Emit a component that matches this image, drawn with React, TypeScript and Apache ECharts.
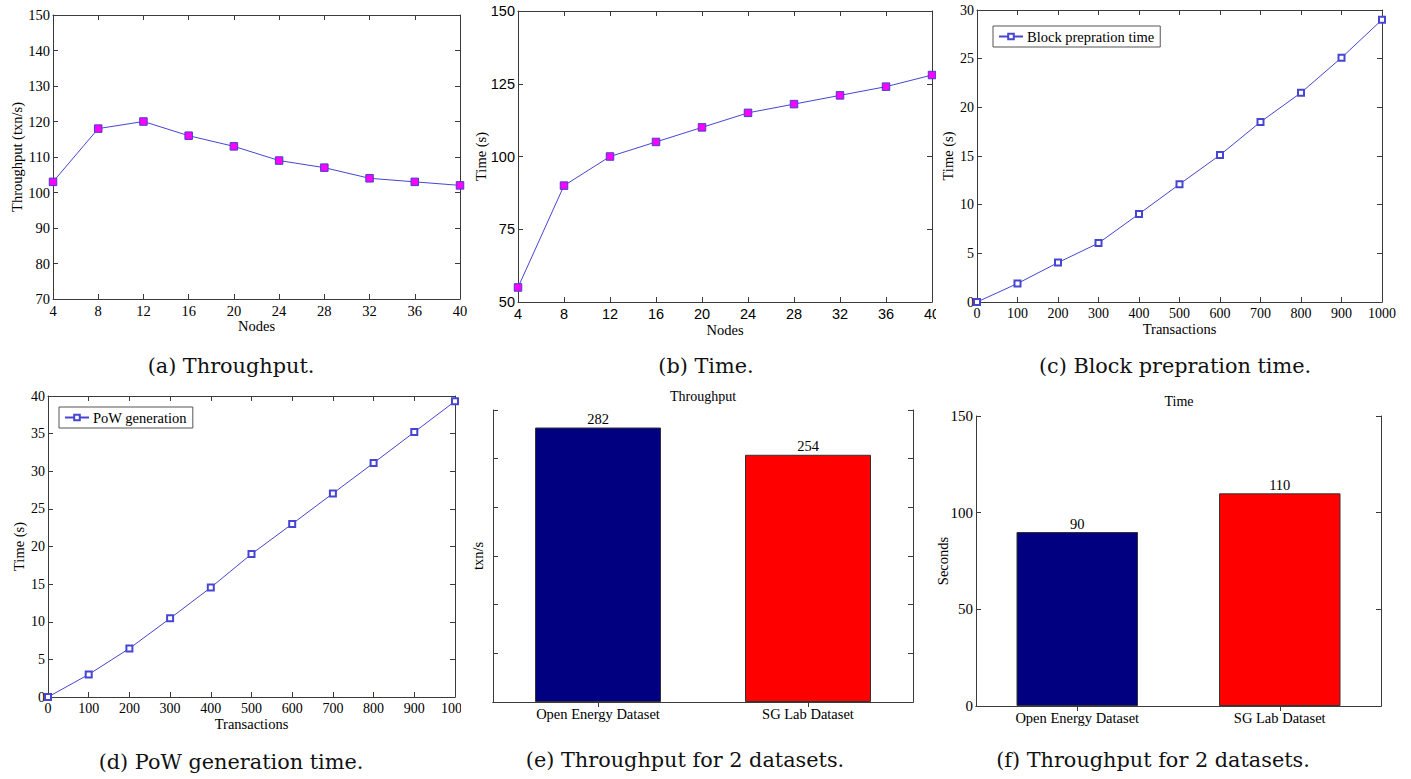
import React, { useEffect, useRef } from "react";
import * as echarts from "echarts";

// ---------- data ----------
const nodes = [4, 8, 12, 16, 20, 24, 28, 32, 36, 40];
const throughputByNodes = [103, 118, 120, 116, 113, 109, 107, 104, 103, 102];
const timeByNodes = [55, 90, 100, 105, 110, 115, 118, 121, 124, 128];
const transactions = [0, 100, 200, 300, 400, 500, 600, 700, 800, 900, 1000];
const blockPrepTime = [0, 1.9, 4.05, 6.05, 9.05, 12.1, 15.1, 18.5, 21.5, 25.1, 29];
const powGenTime = [0, 3, 6.45, 10.45, 14.55, 19, 23, 27.05, 31.1, 35.2, 39.3];
const datasets = ["Open Energy Dataset", "SG Lab Dataset"];
const datasetThroughput = [282, 254];
const datasetTime = [90, 110];
const barColors = ["#000080", "#ff0000"];

const SERIF = '"Liberation Serif", "Times New Roman", serif';
const SANS = '"Liberation Sans", Arial, sans-serif';
const CAPTION_FONT = '20.8px "DejaVu Serif", serif';
const AXIS = "#3a3a3a";
const LINE = "#4646d2";

const zip = (xs: number[], ys: number[]) => xs.map((x, i) => [x, ys[i]]);

function caption(text: string, x: number, y: number) {
  return {
    type: "text",
    x,
    y,
    silent: true,
    style: { text, font: CAPTION_FONT, fill: "#111", align: "center", verticalAlign: "middle" },
  };
}

function plainText(text: string, x: number, y: number, size = 14.5) {
  return {
    type: "text",
    x,
    y,
    silent: true,
    style: { text, font: `${size}px ${SERIF}`, fill: "#000", align: "center", verticalAlign: "middle" },
  };
}

function valueAxes(
  dir: "x" | "y",
  min: number,
  max: number,
  interval: number,
  name: string,
  nameGap: number,
  labelFont: string,
  showLabels = true,
  labelSize = 14.5,
  labelMargin = 3
) {
  const common = {
    type: "value",
    min,
    max,
    interval,
    splitLine: { show: false },
    axisLine: { show: true, onZero: false, lineStyle: { color: AXIS, width: 1 } },
    axisTick: { show: true, inside: true, length: 5, lineStyle: { color: AXIS } },
  };
  const main = {
    ...common,
    position: dir === "x" ? "bottom" : "left",
    name,
    nameLocation: "middle",
    nameGap,
    nameMoveOverlap: false,
    nameTextStyle: { fontFamily: SERIF, fontSize: 14.5, color: "#000" },
    axisLabel: {
      show: showLabels,
      fontFamily: labelFont,
      fontSize: labelSize,
      color: "#000",
      margin: labelMargin,
      showMinLabel: true,
      showMaxLabel: true,
      formatter: (v: number) => String(v),
    },
  };
  const opp = {
    ...common,
    position: dir === "x" ? "top" : "right",
    axisLabel: { show: false },
  };
  return [main, opp];
}

function gridOf(g: number[]) {
  return {
    left: g[0],
    top: g[1],
    width: g[2],
    height: g[3],
    containLabel: false,
    outerBoundsMode: "none",
  };
}

function lineOption(cfg: any) {
  return {
    animation: false,
    grid: gridOf(cfg.grid),
    xAxis: valueAxes("x", cfg.x[0], cfg.x[1], cfg.x[2], cfg.xName, cfg.xGap, cfg.font, true, cfg.labelSize || 14.5, 4),
    yAxis: valueAxes("y", cfg.y[0], cfg.y[1], cfg.y[2], cfg.yName, cfg.yGap, cfg.font, true, cfg.labelSize || 14.5, 3),
    legend: cfg.legend
      ? {
          show: true,
          left: cfg.legend[0],
          top: cfg.legend[1],
          orient: "horizontal",
          borderColor: "#555",
          borderWidth: 1,
          padding: [3, 6, 3, 5],
          itemWidth: 24,
          itemHeight: 7,
          itemGap: 4,
          textStyle: { fontFamily: SERIF, fontSize: 14.5, color: "#000", padding: [0, 0, 0, -1] },
        }
      : { show: false },
    series: [
      {
        type: "line",
        name: cfg.seriesName,
        xAxisIndex: 0,
        yAxisIndex: 0,
        data: cfg.data,
        symbol: cfg.hollow ? "emptyRect" : "rect",
        symbolSize: cfg.hollow ? 6 : 7.5,
        showAllSymbol: true,
        clip: false,
        lineStyle: { color: LINE, width: 1 },
        itemStyle: cfg.hollow
          ? { color: LINE, borderColor: LINE, borderWidth: 1 }
          : { color: "#ff00ff", borderColor: "#4040c8", borderWidth: 1 },
      },
    ],
    graphic: [caption(cfg.caption[0], cfg.caption[1], cfg.caption[2])],
  };
}

function barOption(cfg: any) {
  const catCommon = {
    type: "category",
    data: datasets,
    axisLine: { show: true, lineStyle: { color: AXIS } },
    axisTick: { show: true, inside: true, alignWithLabel: true, length: 5, lineStyle: { color: AXIS } },
    splitLine: { show: false },
  };
  return {
    animation: false,
    grid: gridOf(cfg.grid),
    xAxis: [
      {
        ...catCommon,
        position: "bottom",
        axisLabel: { fontFamily: SERIF, fontSize: 14.5, color: "#000", margin: cfg.xMargin },
      },
      { ...catCommon, position: "top", axisLabel: { show: false } },
    ],
    yAxis: valueAxes("y", cfg.y[0], cfg.y[1], cfg.y[2], cfg.yName, cfg.yGap, SERIF, cfg.yLabels, 15, 3),
    series: [
      {
        type: "bar",
        xAxisIndex: 0,
        yAxisIndex: 0,
        barWidth: "60%",
        data: cfg.values.map((v: number, i: number) => ({
          value: v,
          itemStyle: { color: barColors[i] },
        })),
        itemStyle: { borderColor: "#333", borderWidth: 1 },
        label: {
          show: true,
          position: "top",
          distance: 1,
          fontFamily: SERIF,
          fontSize: 14.5,
          color: "#000",
        },
      },
    ],
    graphic: [
      plainText(cfg.title[0], cfg.title[1], cfg.title[2], 14),
      caption(cfg.caption[0], cfg.caption[1], cfg.caption[2]),
    ],
  };
}

function Panel(props: { x: number; y: number; w: number; h: number; cw?: number; option: any }) {
  const ref = useRef<HTMLDivElement>(null);
  useEffect(() => {
    if (!ref.current) return;
    const chart = echarts.init(ref.current, null, { renderer: "svg" });
    chart.setOption(props.option);
    return () => chart.dispose();
  }, []);
  return (
    <div
      style={{
        position: "absolute",
        left: props.x,
        top: props.y,
        width: props.w,
        height: props.h,
        overflow: "hidden",
        background: "#fff",
      }}
    >
      <div ref={ref} style={{ width: props.cw || props.w, height: props.h }} />
    </div>
  );
}

const optA = lineOption({
  grid: [53, 15, 407, 284],
  x: [4, 40, 4],
  y: [70, 150, 10],
  xName: "Nodes",
  yName: "Throughput (txn/s)",
  xGap: 19,
  yGap: 29,
  font: SERIF,
  data: zip(nodes, throughputByNodes),
  seriesName: "Throughput",
  caption: ["(a) Throughput.", 231, 366],
});

const optB = lineOption({
  grid: [48, 11, 414, 291],
  x: [4, 40, 4],
  y: [50, 150, 25],
  xName: "Nodes",
  yName: "Time (s)",
  xGap: 20,
  yGap: 30,
  font: SANS,
  data: zip(nodes, timeByNodes),
  seriesName: "Time",
  caption: ["(b) Time.", 236, 366],
});

const optC = lineOption({
  grid: [41, 10, 405, 292],
  x: [0, 1000, 100],
  y: [0, 30, 5],
  xName: "Transactions",
  yName: "Time (s)",
  xGap: 19,
  yGap: 22,
  font: SERIF,
  labelSize: 14,
  data: zip(transactions, blockPrepTime),
  seriesName: "Block prepration time",
  hollow: true,
  legend: [57, 26],
  caption: ["(c) Block prepration time.", 239, 366],
});

const optD = lineOption({
  grid: [48, 16, 407, 301],
  x: [0, 1000, 100],
  y: [0, 40, 5],
  xName: "Transactions",
  yName: "Time (s)",
  xGap: 19,
  yGap: 22,
  font: SERIF,
  labelSize: 14,
  data: zip(transactions, powGenTime),
  seriesName: "PoW generation",
  hollow: true,
  legend: [59, 27],
  caption: ["(d) PoW generation time.", 231, 382],
});

const optE = barOption({
  grid: [23, 30, 420, 292],
  y: [0, 300, 50],
  yName: "txn/s",
  yGap: 8,
  yLabels: false,
  xMargin: 4,
  values: datasetThroughput,
  title: ["Throughput", 233, 16],
  caption: ["(e) Throughput for 2 datasets.", 215, 380],
});

const optF = barOption({
  grid: [40, 36, 405, 290],
  y: [0, 150, 50],
  yName: "Seconds",
  yGap: 26,
  yLabels: true,
  xMargin: 4,
  values: datasetTime,
  title: ["Time", 243, 21],
  caption: ["(f) Throughput for 2 datasets.", 217, 380],
});

export default function App() {
  return (
    <div
      style={{
        position: "absolute",
        left: 0,
        top: 0,
        width: 1411,
        height: 779,
        overflow: "hidden",
        background: "#fff",
      }}
    >
      <Panel x={0} y={0} w={470} h={380} option={optA} />
      <Panel x={470} y={0} w={466} h={380} cw={480} option={optB} />
      <Panel x={936} y={0} w={475} h={380} option={optC} />
      <Panel x={0} y={380} w={461} h={399} cw={480} option={optD} />
      <Panel x={470} y={380} w={466} h={399} option={optE} />
      <Panel x={936} y={380} w={475} h={399} option={optF} />
    </div>
  );
}
